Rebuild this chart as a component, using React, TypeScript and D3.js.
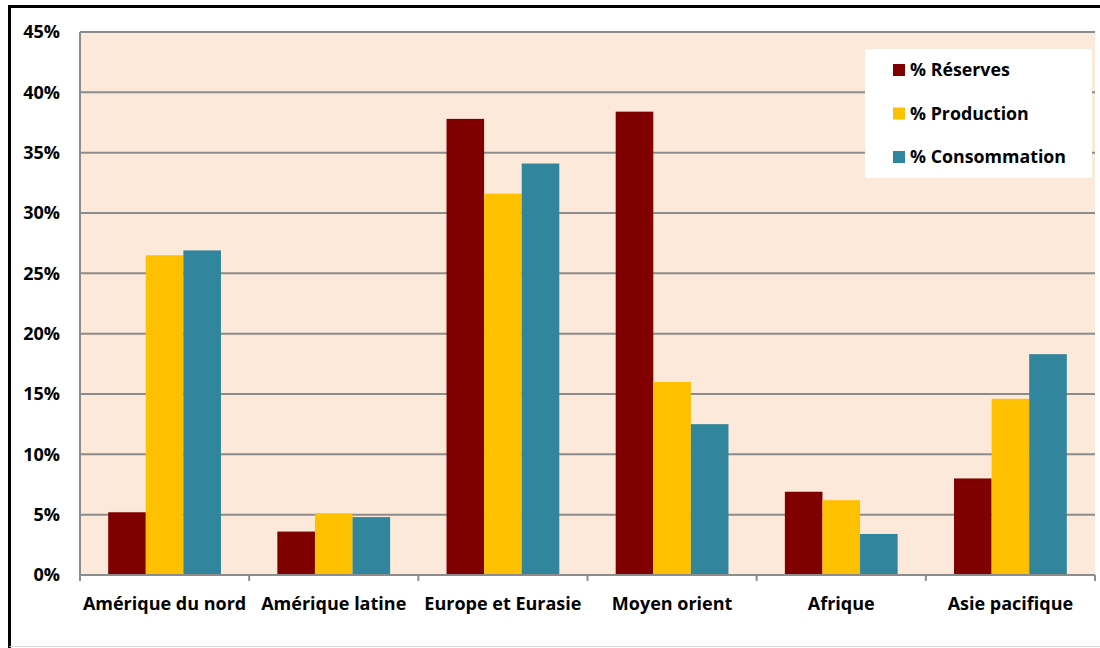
import React from "react";
import * as d3 from "d3";

// Regions and series shares (%)
const regions = [
  "Amérique du nord",
  "Amérique latine",
  "Europe et Eurasie",
  "Moyen orient",
  "Afrique",
  "Asie pacifique",
];
const seriesNames = ["% Réserves", "% Production", "% Consommation"];
const reserves = [5.2, 3.6, 37.8, 38.4, 6.9, 8.0];
const production = [26.5, 5.1, 31.6, 16.0, 6.2, 14.6];
const consommation = [26.9, 4.8, 34.1, 12.5, 3.4, 18.3];
const seriesColors = ["#800000", "#FFC000", "#31859C"];
const yTicks = [0, 5, 10, 15, 20, 25, 30, 35, 40, 45];

const W = 1100;
const H = 648;
const plot = { left: 80, top: 32, right: 1095, bottom: 575 };
const FONT = "'Open Sans', Lato, sans-serif";

export default function App() {
  const values = [reserves, production, consommation];

  const x0 = d3
    .scaleBand<string>()
    .domain(regions)
    .range([plot.left, plot.right])
    .padding(0);
  const x1 = d3
    .scaleBand<string>()
    .domain(seriesNames)
    .range([0, x0.bandwidth()])
    .paddingInner(0)
    .paddingOuter(0.75);
  const y = d3.scaleLinear().domain([0, 45]).range([plot.bottom, plot.top]);

  const boundaries = regions.map((r) => x0(r)!).concat([plot.right]);

  return (
    <svg
      width={W}
      height={H}
      style={{ position: "absolute", left: 0, top: 0, background: "#fff" }}
    >
      {/* outer frame */}
      <line x1={9.5} x2={W} y1={6.5} y2={6.5} stroke="#000" strokeWidth={3} />
      <line x1={9.5} x2={9.5} y1={5} y2={H} stroke="#000" strokeWidth={3} />
      <line x1={9.5} x2={W} y1={646.5} y2={646.5} stroke="#d9d9d9" strokeWidth={1} />

      {/* plot background */}
      <rect
        x={plot.left}
        y={plot.top}
        width={plot.right - plot.left}
        height={plot.bottom - plot.top}
        fill="#FDE9D9"
      />

      {/* horizontal gridlines */}
      {yTicks.map((t) => (
        <line
          key={"g" + t}
          x1={plot.left}
          x2={plot.right}
          y1={y(t)}
          y2={y(t)}
          stroke="#8c8c8c"
          strokeWidth={2}
        />
      ))}

      {/* y axis line */}
      <line
        x1={plot.left}
        x2={plot.left}
        y1={plot.top}
        y2={plot.bottom}
        stroke="#8c8c8c"
        strokeWidth={2}
      />

      {/* bars */}
      {regions.map((r, i) =>
        seriesNames.map((s, j) => (
          <rect
            key={r + s}
            x={x0(r)! + x1(s)!}
            y={y(values[j][i])}
            width={x1.bandwidth()}
            height={plot.bottom - y(values[j][i])}
            fill={seriesColors[j]}
          />
        ))
      )}

      {/* x axis line and category ticks */}
      <line
        x1={plot.left}
        x2={plot.right}
        y1={plot.bottom}
        y2={plot.bottom}
        stroke="#8c8c8c"
        strokeWidth={2}
      />
      {boundaries.map((bx, i) => (
        <line
          key={"t" + i}
          x1={bx}
          x2={bx}
          y1={plot.bottom}
          y2={plot.bottom + 6}
          stroke="#8c8c8c"
          strokeWidth={2}
        />
      ))}

      {/* y tick labels */}
      {yTicks.map((t) => (
        <text
          key={"yl" + t}
          x={60}
          y={y(t)}
          dy="0.35em"
          textAnchor="end"
          fontFamily={FONT}
          fontWeight={700}
          fontSize={18}
          fill="#000"
        >
          {t + "%"}
        </text>
      ))}

      {/* category labels */}
      {regions.map((r) => (
        <text
          key={"xl" + r}
          x={x0(r)! + x0.bandwidth() / 2}
          y={604}
          dy="0.35em"
          textAnchor="middle"
          fontFamily={FONT}
          fontWeight={700}
          fontSize={18}
          fill="#000"
        >
          {r}
        </text>
      ))}

      {/* legend */}
      <rect x={865} y={49} width={227} height={129} fill="#fff" />
      {seriesNames.map((s, j) => (
        <g key={"lg" + s} transform={`translate(893, ${70 + j * 43.5})`}>
          <rect x={0} y={-6} width={12} height={12} fill={seriesColors[j]} />
          <text
            x={17}
            y={0}
            dy="0.35em"
            fontFamily={FONT}
            fontWeight={700}
            fontSize={17.8}
            fill="#000"
          >
            {s}
          </text>
        </g>
      ))}
    </svg>
  );
}
